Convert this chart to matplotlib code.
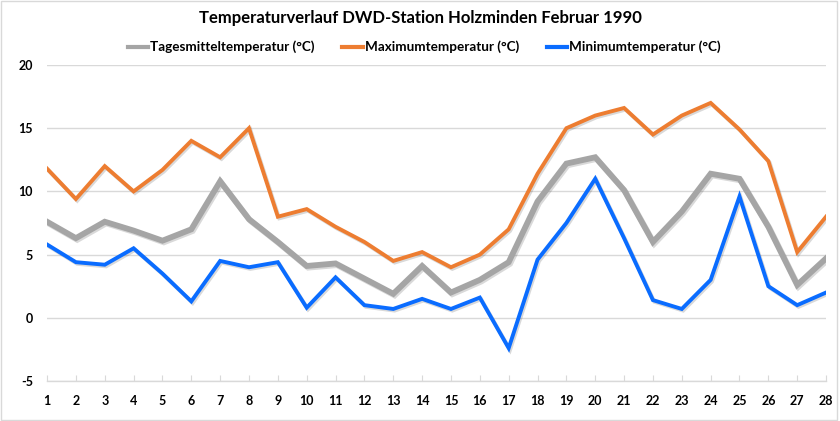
import matplotlib
matplotlib.use("Agg")
import matplotlib.pyplot as plt
import matplotlib.patheffects as pe
from matplotlib.patches import Rectangle

plt.rcParams['font.family'] = ['Lato', 'DejaVu Sans']
plt.rcParams['axes.unicode_minus'] = False

days = list(range(1, 29))
tmean = [7.6, 6.3, 7.6, 6.9, 6.1, 7.0, 10.8, 7.8, 6.0, 4.1, 4.3, 3.1, 1.9, 4.1,
         2.0, 3.0, 4.4, 9.2, 12.2, 12.7, 10.1, 6.0, 8.4, 11.4, 11.0, 7.2, 2.6, 4.7]
tmax = [11.8, 9.4, 12.0, 10.0, 11.7, 14.0, 12.7, 15.0, 8.0, 8.6, 7.2, 6.0, 4.5, 5.2,
        4.0, 5.0, 7.0, 11.4, 15.0, 16.0, 16.6, 14.5, 16.0, 17.0, 14.9, 12.4, 5.2, 8.0]
tmin = [5.8, 4.4, 4.2, 5.5, 3.5, 1.3, 4.5, 4.0, 4.4, 0.8, 3.2, 1.0, 0.7, 1.5,
        0.7, 1.6, -2.4, 4.6, 7.5, 11.0, 6.3, 1.4, 0.7, 3.0, 9.6, 2.5, 1.0, 2.0]
series_names = ['Tagesmitteltemperatur (°C)', 'Maximumtemperatur (°C)', 'Minimumtemperatur (°C)']
title = 'Temperaturverlauf DWD-Station Holzminden Februar 1990'
yticks = [-5, 0, 5, 10, 15, 20]

fig = plt.figure(figsize=(8.4, 4.21), dpi=100)
fig.patches.append(Rectangle((0.001, 0.002), 0.995, 0.995, transform=fig.transFigure,
                             fill=False, edgecolor='#d9d9d9', linewidth=1))
ax = fig.add_axes([0.056, 0.095, 0.9274, 0.7506])

shadow = [pe.SimpleLineShadow(offset=(1, -1.2), alpha=0.15, shadow_color='black'), pe.Normal()]
l1, = ax.plot(days, tmean, color='#a5a5a5', linewidth=4.2, solid_joinstyle='miter', path_effects=shadow, label=series_names[0], zorder=3)
l2, = ax.plot(days, tmax, color='#ed7d31', linewidth=2.8, solid_joinstyle='miter', path_effects=shadow, label=series_names[1], zorder=4)
l3, = ax.plot(days, tmin, color='#0a6cff', linewidth=2.8, solid_joinstyle='miter', path_effects=shadow, label=series_names[2], zorder=5)

ax.set_xlim(1, 28)
ax.set_ylim(-5, 20)
ax.set_yticks(yticks)
ax.set_xticks(days)
ax.grid(axis='y', color='#d9d9d9', linewidth=1)
ax.set_axisbelow(True)
for s in ['top', 'right', 'left']:
    ax.spines[s].set_visible(False)
ax.spines['bottom'].set_color('#d9d9d9')
ax.spines['bottom'].set_linewidth(1)
ax.tick_params(axis='x', direction='in', length=4, color='#d9d9d9', pad=10, labelsize=9)
ax.tick_params(axis='y', length=0, pad=10, labelsize=9)
for lab in ax.get_xticklabels() + ax.get_yticklabels():
    lab.set_fontweight('bold')
    lab.set_color('#000000')

fig.text(0.5, 0.957, title, ha='center', va='center', fontsize=12, fontweight='bold', color='#000000')
leg = fig.legend(handles=[l1, l2, l3], loc='center', bbox_to_anchor=(0.505, 0.888), ncol=3,
                 frameon=False, fontsize=9.7, handlelength=1.5, handletextpad=0.15, columnspacing=2.07)
for t in leg.get_texts():
    t.set_fontweight('bold')
for h in leg.legend_handles:
    h.set_path_effects([])
    h.set_linewidth(3)

fig.savefig('out.png', dpi=100)
